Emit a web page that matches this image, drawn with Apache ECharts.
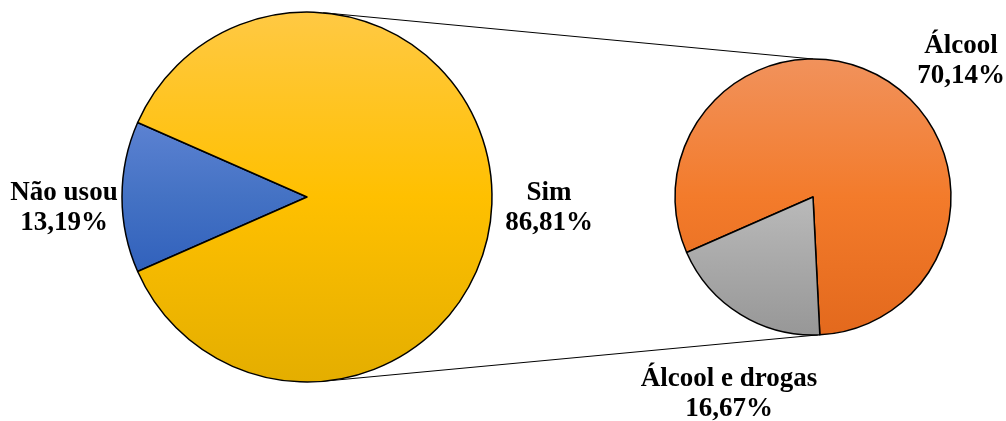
<!DOCTYPE html>
<html>
<head>
<meta charset="utf-8">
<script src="https://cdn.jsdelivr.net/npm/echarts@6/dist/echarts.min.js"></script>
<style>
  html, body { margin: 0; padding: 0; background: #fff; }
  #chart { width: 1006px; height: 421px; }
</style>
</head>
<body>
<div id="chart"></div>
<script>
// Main pie: did the person use anything?
const mainNames = ['Não usou', 'Sim'];
const mainValues = [13.19, 86.81];
// Secondary pie: breakdown of "Sim"
const subNames = ['Álcool', 'Álcool e drogas'];
const subValues = [70.14, 16.67];

// Geometry
const mainCenter = [307, 197], mainRadius = 185;
const subCenter = [813, 197], subRadius = 138;

function grad(top, mid, bottom) {
  return new echarts.graphic.LinearGradient(0, 0, 0, 1, [
    { offset: 0, color: top },
    { offset: 0.5, color: mid },
    { offset: 1, color: bottom }
  ]);
}
const mainColors = [grad('#5C82D2', '#4472C4', '#3161BC'), grad('#FFC944', '#FFC000', '#E4AE00')];
const subColors = [grad('#F1925C', '#F37B2B', '#E3691D'), grad('#BABABA', '#A8A8A8', '#979797')];

const mainLabelPos = [[64, 208], [549, 208]];
const subLabelPos = [[961, 61], [729, 394]];

function fmt(p) {
  return p.name + '\n' + p.value.toFixed(2).replace('.', ',') + '%';
}

const labelStyle = {
  show: true,
  formatter: fmt,
  fontFamily: '"Liberation Serif", "Times New Roman", serif',
  fontWeight: 'bold',
  fontSize: 27,
  lineHeight: 30,
  color: '#000',
  align: 'center',
  overflow: 'none',
  width: 300
};

// Start the first slice so "Não usou" is centred on the left side
const mainStart = 180 + (mainValues[0] / (mainValues[0] + mainValues[1])) * 360 / 2;
const subStart = 203.7;

function pt(c, r, deg) {
  const a = deg * Math.PI / 180;
  return [c[0] + r * Math.cos(a), c[1] - r * Math.sin(a)];
}
const topA = pt(mainCenter, mainRadius, 85), topB = pt(subCenter, subRadius, 90);
const botA = pt(mainCenter, mainRadius, -85), botB = pt(subCenter, subRadius, -88);

const chart = echarts.init(document.getElementById('chart'), null, { renderer: 'canvas' });
chart.setOption({
  backgroundColor: '#fff',
  animation: false,
  graphic: [
    { type: 'line', z: -1, shape: { x1: topA[0], y1: topA[1], x2: topB[0], y2: topB[1] }, style: { stroke: '#000', lineWidth: 1 } },
    { type: 'line', z: -1, shape: { x1: botA[0], y1: botA[1], x2: botB[0], y2: botB[1] }, style: { stroke: '#000', lineWidth: 1 } }
  ],
  series: [
    {
      type: 'pie',
      center: mainCenter,
      radius: mainRadius,
      startAngle: mainStart,
      clockwise: true,
      silent: true,
      itemStyle: { borderColor: '#000', borderWidth: 1.5 },
      label: labelStyle,
      labelLine: { show: false },
      labelLayout: function (p) {
        const xy = mainLabelPos[p.dataIndex];
        return { x: xy[0], y: xy[1], align: 'center', verticalAlign: 'middle' };
      },
      data: mainNames.map((n, i) => ({ name: n, value: mainValues[i], itemStyle: { color: mainColors[i] } }))
    },
    {
      type: 'pie',
      center: subCenter,
      radius: subRadius,
      startAngle: subStart,
      clockwise: true,
      silent: true,
      itemStyle: { borderColor: '#000', borderWidth: 1.5 },
      label: labelStyle,
      labelLine: { show: false },
      labelLayout: function (p) {
        const xy = subLabelPos[p.dataIndex];
        return { x: xy[0], y: xy[1], align: 'center', verticalAlign: 'middle' };
      },
      data: subNames.map((n, i) => ({ name: n, value: subValues[i], itemStyle: { color: subColors[i] } }))
    }
  ]
});
</script>
</body>
</html>
